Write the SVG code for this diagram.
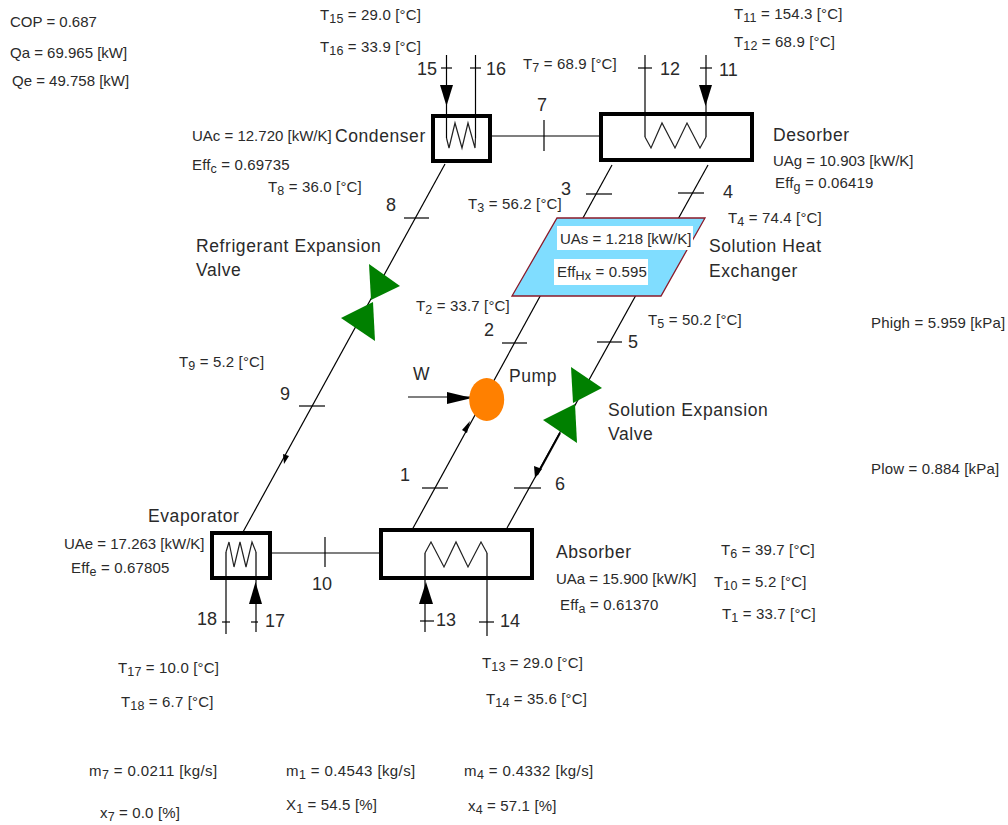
<svg xmlns="http://www.w3.org/2000/svg" width="1008" height="825" viewBox="0 0 1008 825">
<style>
text{font-family:"Liberation Sans",Arial,sans-serif;font-size:15px;fill:#2a2a2a}
text:has(tspan){letter-spacing:.15px}
.b{font-size:17.5px;letter-spacing:.58px}
.n{font-size:18px}
.s{font-size:12.5px}
text.m{letter-spacing:.4px}
text.p{letter-spacing:.15px}
.c line,.w{stroke:#000;stroke-width:1.2;fill:none}
.box{fill:#fff;stroke:#000;stroke-width:4}
.coil{fill:none;stroke:#222;stroke-width:1.2}
.ah{fill:#000;stroke:none}
.valve{fill:#008000}
</style>
<rect width="1008" height="825" fill="#fff"/>
<g id="connectors" class="c">
<line x1="445" y1="164" x2="243" y2="532"/>
<line x1="612" y1="165" x2="412" y2="530"/>
<line x1="708" y1="165" x2="507" y2="528"/>
<line x1="490" y1="136" x2="600" y2="136"/>
<line x1="270" y1="553" x2="384" y2="553"/>
<line x1="446.5" y1="55" x2="446.5" y2="138"/>
<line x1="475.5" y1="55" x2="475.5" y2="138"/>
<line x1="645" y1="55" x2="645" y2="137"/>
<line x1="706" y1="55" x2="706" y2="137"/>
<line x1="226" y1="552" x2="226" y2="634"/>
<line x1="256" y1="552" x2="256" y2="632"/>
<line x1="425" y1="553" x2="425" y2="632"/>
<line x1="487" y1="553" x2="487" y2="636"/>
<line x1="408" y1="397" x2="470" y2="397"/>
<line x1="560" y1="433" x2="537" y2="475" style="stroke-width:2"/>
<line x1="544" y1="120" x2="544" y2="151"/>
<line x1="325" y1="537" x2="325" y2="567"/>
<line x1="441" y1="68" x2="452" y2="68"/>
<line x1="470" y1="68" x2="481" y2="68"/>
<line x1="638" y1="68" x2="652" y2="68"/>
<line x1="700" y1="68" x2="712" y2="68"/>
<line x1="404" y1="218" x2="429" y2="218"/>
<line x1="586" y1="194" x2="612" y2="194"/>
<line x1="678" y1="193" x2="704" y2="193"/>
<line x1="502" y1="343" x2="527" y2="343"/>
<line x1="597" y1="342" x2="622" y2="342"/>
<line x1="299" y1="406" x2="325" y2="406"/>
<line x1="422" y1="488" x2="448" y2="488"/>
<line x1="514" y1="488" x2="541" y2="488"/>
<line x1="222" y1="622" x2="230" y2="622"/>
<line x1="251" y1="622" x2="258" y2="622"/>
<line x1="420" y1="621" x2="434" y2="621"/>
<line x1="479" y1="622" x2="494" y2="622"/>
<polygon class="ah" points="440,85 453,85 446.5,106"/>
<polygon class="ah" points="699,85 712,85 705.5,106"/>
<polygon class="ah" points="249,604 262,604 255.5,582"/>
<polygon class="ah" points="419,604 433,604 426,582"/>
<polygon class="ah" points="447,392 447,404 472,398"/>
<polygon class="ah" points="470,421 462,430 467,433"/>
<polygon class="ah" points="535,478 534,466 542,469"/>
<polygon class="ah" points="284,464 283,454 289,456"/>
<text x="417" y="75" class="n">15</text><text x="486" y="75" class="n">16</text>
<text x="660" y="75" class="n">12</text><text x="719" y="76" class="n">11</text>
<text x="537" y="111" class="n">7</text><text x="386" y="211" class="n">8</text>
<text x="561" y="195" class="n">3</text><text x="723" y="198" class="n">4</text>
<text x="484" y="336" class="n">2</text><text x="628" y="348" class="n">5</text>
<text x="280" y="400" class="n">9</text><text x="400" y="481" class="n">1</text>
<text x="555" y="490" class="n">6</text><text x="312" y="590" class="n">10</text>
<text x="197" y="625" class="n">18</text><text x="265" y="627" class="n">17</text>
<text x="436" y="626" class="n">13</text><text x="500" y="627" class="n">14</text>
<text x="413" y="380" class="b">W</text>
</g>
<g id="condenser">
<rect class="box" x="433" y="116" width="57" height="45"/>
<polyline class="coil" points="446.5,138 449,148 455,123 462,148 468,123 475,148 475.5,138"/>
<line class="w" x1="446.5" y1="116" x2="446.5" y2="138"/><line class="w" x1="475.5" y1="116" x2="475.5" y2="138"/>
<text x="335" y="142" class="b">Condenser</text>
</g>
<g id="desorber">
<rect class="box" x="601" y="114" width="151" height="46"/>
<polyline class="coil" points="645,137 651,148 662,123 675,148 687,123 700,148 706,137"/>
<line class="w" x1="645" y1="114" x2="645" y2="137"/><line class="w" x1="706" y1="114" x2="706" y2="137"/>
<text x="773" y="141" class="b">Desorber</text>
</g>
<g id="heat-exchanger">
<polygon points="557,218 705,218 661,296 512,296" fill="#80DDFF" stroke="#8B1A2A" stroke-width="1.3"/>
<rect x="557" y="226" width="136" height="24" fill="#fff"/>
<rect x="554" y="259" width="94" height="26" fill="#fff"/>
<text x="560" y="244">UAs = 1.218 [kW/K]</text>
<text x="557" y="277">Eff<tspan class="s" dy="3">Hx</tspan><tspan dy="-3"> = 0.595</tspan></text>
<text x="709" y="252" class="b">Solution Heat</text>
<text x="709" y="277" class="b">Exchanger</text>
</g>
<g id="refrigerant-valve">
<polygon class="valve" points="369,264 400,286 371,300"/>
<polygon class="valve" points="373,302 375,341 341,318"/>
<text x="196" y="252" class="b">Refrigerant Expansion</text>
<text x="196" y="276" class="b">Valve</text>
</g>
<g id="solution-valve">
<polygon class="valve" points="571,367 602,388 573,403"/>
<polygon class="valve" points="575,404 577,443 543,420"/>
<text x="608" y="416" class="b">Solution Expansion</text>
<text x="608" y="440" class="b">Valve</text>
</g>
<g id="pump">
<ellipse cx="486.7" cy="399.5" rx="17.5" ry="21.5" fill="#FF8000"/>
<text x="509" y="382" class="b">Pump</text>
</g>
<g id="evaporator">
<rect class="box" x="212" y="533" width="58" height="45"/>
<polyline class="coil" points="226,552 229,542 234,567 240,542 246,567 252,542 256,552"/>
<line class="w" x1="226" y1="552" x2="226" y2="578"/><line class="w" x1="256" y1="552" x2="256" y2="578"/>
<text x="148" y="522" class="b">Evaporator</text>
</g>
<g id="absorber">
<rect class="box" x="381" y="530" width="151" height="48"/>
<polyline class="coil" points="425,553 431,542 444,567 456,542 468,567 481,542 487,553"/>
<line class="w" x1="425" y1="553" x2="425" y2="578"/><line class="w" x1="487" y1="553" x2="487" y2="578"/>
<text x="556" y="558" class="b">Absorber</text>
</g>
<g id="values">
<text x="10" y="27">COP = 0.687</text>
<text x="10" y="58">Qa = 69.965 [kW]</text>
<text x="12" y="86">Qe = 49.758 [kW]</text>
<text x="320" y="20">T<tspan class="s" dy="3">15</tspan><tspan dy="-3"> = 29.0 [°C]</tspan></text>
<text x="320" y="52">T<tspan class="s" dy="3">16</tspan><tspan dy="-3"> = 33.9 [°C]</tspan></text>
<text x="734" y="19">T<tspan class="s" dy="3">11</tspan><tspan dy="-3"> = 154.3 [°C]</tspan></text>
<text x="734" y="47">T<tspan class="s" dy="3">12</tspan><tspan dy="-3"> = 68.9 [°C]</tspan></text>
<text x="523" y="69">T<tspan class="s" dy="3">7</tspan><tspan dy="-3"> = 68.9 [°C]</tspan></text>
<text x="192" y="141">UAc = 12.720 [kW/K]</text>
<text x="192" y="170">Eff<tspan class="s" dy="3">c</tspan><tspan dy="-3"> = 0.69735</tspan></text>
<text x="268" y="192">T<tspan class="s" dy="3">8</tspan><tspan dy="-3"> = 36.0 [°C]</tspan></text>
<text x="468" y="209">T<tspan class="s" dy="3">3</tspan><tspan dy="-3"> = 56.2 [°C]</tspan></text>
<text x="728" y="223">T<tspan class="s" dy="3">4</tspan><tspan dy="-3"> = 74.4 [°C]</tspan></text>
<text x="773" y="166">UAg = 10.903 [kW/K]</text>
<text x="775" y="188">Eff<tspan class="s" dy="3">g</tspan><tspan dy="-3"> = 0.06419</tspan></text>
<text x="416" y="311">T<tspan class="s" dy="3">2</tspan><tspan dy="-3"> = 33.7 [°C]</tspan></text>
<text x="648" y="325">T<tspan class="s" dy="3">5</tspan><tspan dy="-3"> = 50.2 [°C]</tspan></text>
<text x="871" y="328" class="p">Phigh = 5.959 [kPa]</text>
<text x="179" y="367">T<tspan class="s" dy="3">9</tspan><tspan dy="-3"> = 5.2 [°C]</tspan></text>
<text x="871" y="474" class="p">Plow = 0.884 [kPa]</text>
<text x="64" y="549">UAe = 17.263 [kW/K]</text>
<text x="71" y="573">Eff<tspan class="s" dy="3">e</tspan><tspan dy="-3"> = 0.67805</tspan></text>
<text x="556" y="584">UAa = 15.900 [kW/K]</text>
<text x="560" y="610">Eff<tspan class="s" dy="3">a</tspan><tspan dy="-3"> = 0.61370</tspan></text>
<text x="721" y="555">T<tspan class="s" dy="3">6</tspan><tspan dy="-3"> = 39.7 [°C]</tspan></text>
<text x="714" y="587">T<tspan class="s" dy="3">10</tspan><tspan dy="-3"> = 5.2 [°C]</tspan></text>
<text x="722" y="619">T<tspan class="s" dy="3">1</tspan><tspan dy="-3"> = 33.7 [°C]</tspan></text>
<text x="118" y="673">T<tspan class="s" dy="3">17</tspan><tspan dy="-3"> = 10.0 [°C]</tspan></text>
<text x="121" y="707">T<tspan class="s" dy="3">18</tspan><tspan dy="-3"> = 6.7 [°C]</tspan></text>
<text x="482" y="668">T<tspan class="s" dy="3">13</tspan><tspan dy="-3"> = 29.0 [°C]</tspan></text>
<text x="486" y="704">T<tspan class="s" dy="3">14</tspan><tspan dy="-3"> = 35.6 [°C]</tspan></text>
<text x="89" y="776" class="m">m<tspan class="s" dy="3">7</tspan><tspan dy="-3"> = 0.0211 [kg/s]</tspan></text>
<text x="100" y="818">x<tspan class="s" dy="3">7</tspan><tspan dy="-3"> = 0.0 [%]</tspan></text>
<text x="286" y="776" class="m">m<tspan class="s" dy="3">1</tspan><tspan dy="-3"> = 0.4543 [kg/s]</tspan></text>
<text x="286" y="810">X<tspan class="s" dy="3">1</tspan><tspan dy="-3"> = 54.5 [%]</tspan></text>
<text x="464" y="776" class="m">m<tspan class="s" dy="3">4</tspan><tspan dy="-3"> = 0.4332 [kg/s]</tspan></text>
<text x="468" y="811">x<tspan class="s" dy="3">4</tspan><tspan dy="-3"> = 57.1 [%]</tspan></text>
</g>
</svg>
